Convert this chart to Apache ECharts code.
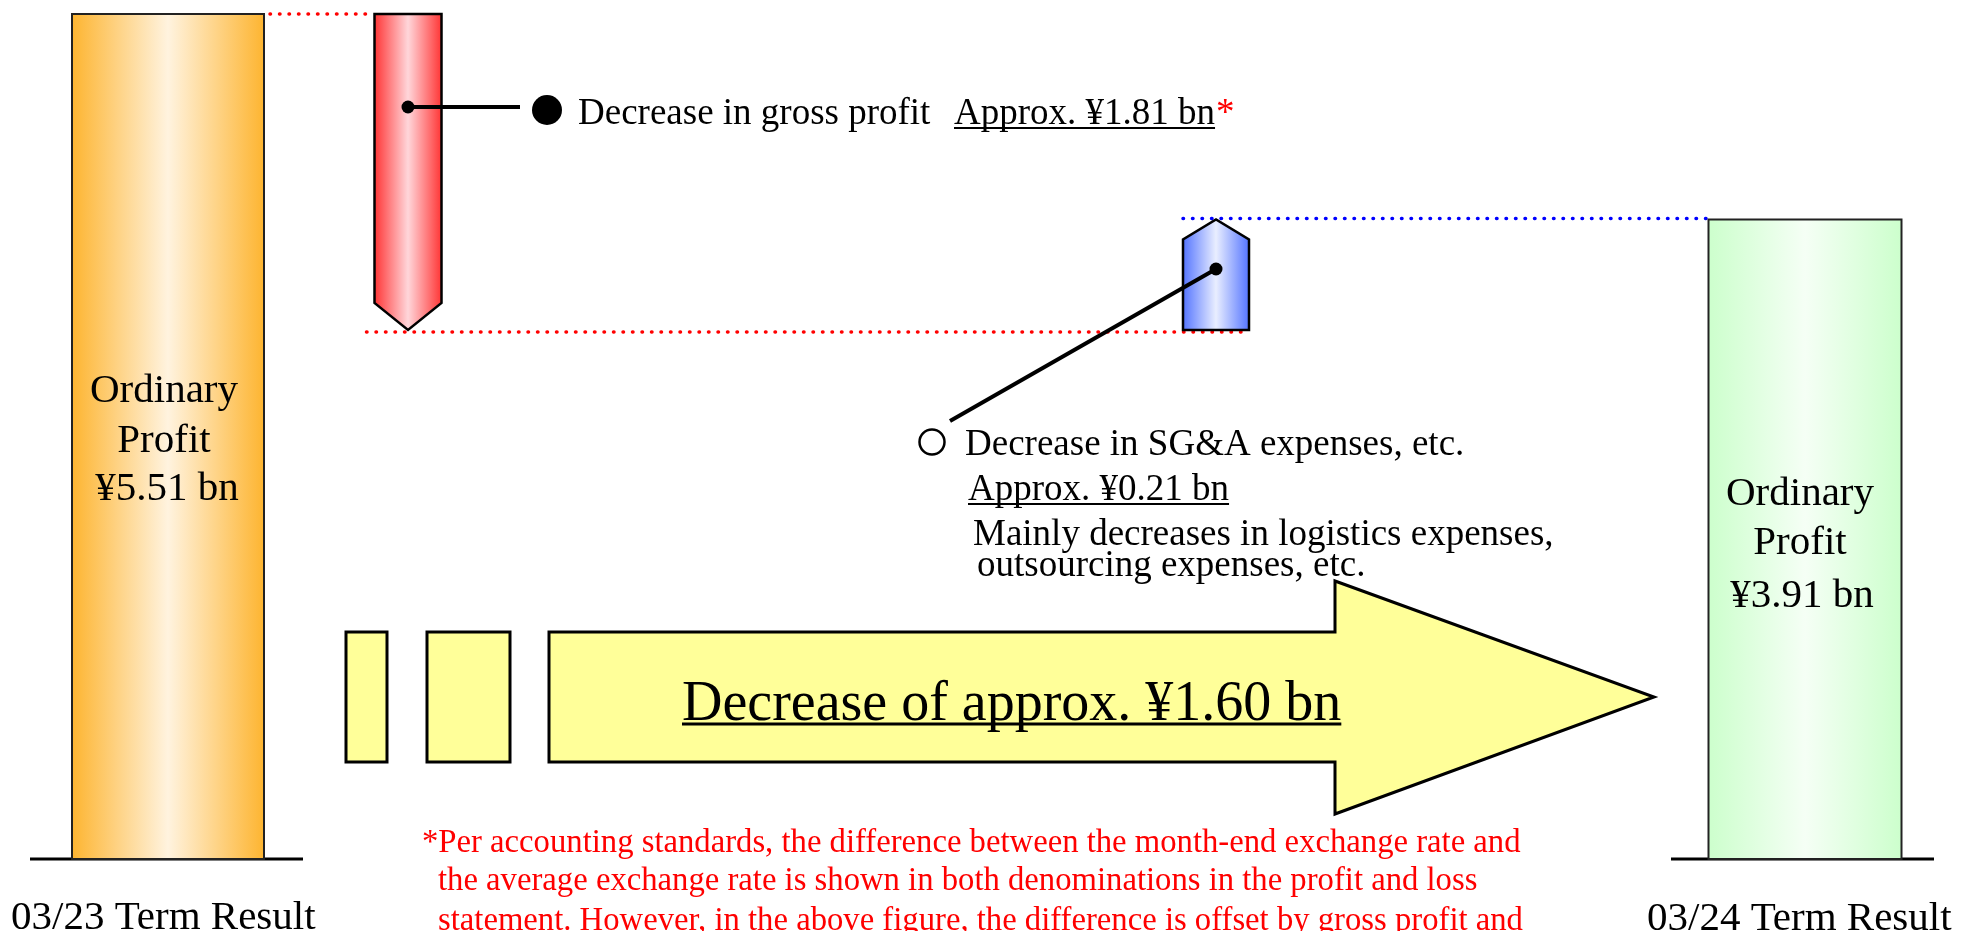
<!DOCTYPE html>
<html>
<head>
<meta charset="utf-8">
<script src="https://cdn.jsdelivr.net/npm/echarts@6/dist/echarts.min.js"></script>
<style>
  html, body { margin: 0; padding: 0; background: #fff; }
  #chart { width: 1964px; height: 931px; }
</style>
</head>
<body>
<div id="chart"></div>
<script>
// steps of the ordinary profit bridge (¥ bn)
var steps = ['03/23 Term Result', 'Gross profit', 'SG&A expenses, etc.', '03/24 Term Result'];
var stepAmounts = [5.51, -1.81, 0.21, 3.91];
// bar extents as drawn on the slide (the slide itself is not to scale)
var barFrom = [0, 5.51, 3.45, 0];
var barTo = [5.51, 3.45, 4.17, 4.17];

// layout (slide pixels)
var barCenter = [168, 408, 1216, 1805];
var barWidth = [192, 67, 66, 193];
var FONT = '"Liberation Serif", "Times New Roman", serif';

var fills = [
  ['#FDB42F', '#FFF3DF'],
  ['#FF3030', '#FFD6DA'],
  ['#4F70FF', '#E9EEFF'],
  ['#CCFFCC', '#F5FFF5']
];

function grad(c) {
  return new echarts.graphic.LinearGradient(0, 0, 1, 0, [
    { offset: 0, color: c[0] }, { offset: 0.5, color: c[1] }, { offset: 1, color: c[0] }
  ]);
}

var dotted = function (color) {
  return { stroke: color, lineWidth: 3.5, lineDash: [0.5, 9], lineCap: 'round' };
};

function renderStep(params, api) {
  var i = params.dataIndex;
  var cx = api.value(0);
  var pFrom = api.coord([cx, api.value(1)]);
  var pTo = api.coord([cx, api.value(2)]);
  var half = api.size([barWidth[i], 0])[0] / 2;
  var x0 = pTo[0] - half, x1 = pTo[0] + half;
  var kids = [];

  if (i === 0 || i === 3) {
    kids.push({ type: 'rect', shape: { x: x0, y: pTo[1], width: x1 - x0, height: pFrom[1] - pTo[1] },
      style: { fill: grad(fills[i]), stroke: '#222', lineWidth: 2 } });
  } else if (stepAmounts[i] < 0) {
    // decrease: arrow pointing down
    var prevRight = api.coord([barCenter[i - 1] + barWidth[i - 1] / 2 + 6, api.value(1)]);
    kids.push({ type: 'line', shape: { x1: prevRight[0], y1: pFrom[1], x2: x0, y2: pFrom[1] }, style: dotted('#FF0000') });
    var nextRight = api.coord([barCenter[i + 1] + barWidth[i + 1] / 2, api.value(2)]);
    kids.push({ type: 'line', shape: { x1: x0 - 8, y1: pTo[1] + 2, x2: nextRight[0], y2: pTo[1] + 2 }, style: dotted('#FF0000') });
    kids.push({ type: 'polygon', shape: { points: [[x0, pFrom[1]], [x1, pFrom[1]], [x1, pTo[1] - 27], [pTo[0], pTo[1]], [x0, pTo[1] - 27]] },
      style: { fill: grad(fills[i]), stroke: '#000', lineWidth: 2.5 } });
  } else {
    // increase: arrow pointing up
    var nextLeft = api.coord([barCenter[i + 1] - barWidth[i + 1] / 2, api.value(2)]);
    kids.push({ type: 'line', shape: { x1: x0, y1: pTo[1] - 1, x2: nextLeft[0], y2: pTo[1] - 1 }, style: dotted('#0000FF') });
    kids.push({ type: 'polygon', shape: { points: [[x0, pFrom[1]], [x1, pFrom[1]], [x1, pTo[1] + 20], [pTo[0], pTo[1]], [x0, pTo[1] + 20]] },
      style: { fill: grad(fills[i]), stroke: '#000', lineWidth: 2.5 } });
  }
  return { type: 'group', children: kids };
}

var measureCtx = document.createElement('canvas').getContext('2d');
function textWidth(s, size) {
  measureCtx.font = size + 'px ' + FONT;
  return measureCtx.measureText(s).width;
}

function txt(x, base, s, size, color, align) {
  return { type: 'text', z: 20, silent: true, style: {
    text: s, x: x, y: base - 0.21 * size, fontSize: size, fontFamily: FONT,
    fill: color || '#000', align: align || 'left', verticalAlign: 'middle' } };
}
function uline(x, base, s, size, off, lw) {
  var w = textWidth(s, size);
  return { type: 'line', z: 20, silent: true, shape: { x1: x, y1: base + off, x2: x + w, y2: base + off },
    style: { stroke: '#000', lineWidth: lw } };
}

var graphics = [];
// ground lines
graphics.push({ type: 'line', shape: { x1: 30, y1: 859, x2: 303, y2: 859 }, style: { stroke: '#000', lineWidth: 3 } });
graphics.push({ type: 'line', shape: { x1: 1671, y1: 859, x2: 1934, y2: 859 }, style: { stroke: '#000', lineWidth: 3 } });

// labels inside the total bars
graphics.push(txt(164, 400, 'Ordinary', 41, '#000', 'center'));
graphics.push(txt(164, 450, 'Profit', 41, '#000', 'center'));
graphics.push(txt(167, 498, '\u00a55.51 bn', 41, '#000', 'center'));
graphics.push(txt(1800, 503, 'Ordinary', 41, '#000', 'center'));
graphics.push(txt(1800, 552, 'Profit', 41, '#000', 'center'));
graphics.push(txt(1802, 605, '\u00a53.91 bn', 41, '#000', 'center'));

// category labels
graphics.push(txt(11, 927, steps[0], 41));
graphics.push(txt(1647, 928, steps[3], 41));

// gross profit callout
graphics.push({ type: 'line', z: 15, shape: { x1: 408, y1: 107, x2: 520, y2: 107 }, style: { stroke: '#000', lineWidth: 4 } });
graphics.push({ type: 'circle', z: 15, shape: { cx: 408, cy: 107, r: 6.5 }, style: { fill: '#000' } });
graphics.push({ type: 'circle', z: 15, shape: { cx: 547, cy: 110, r: 15 }, style: { fill: '#000' } });
graphics.push(txt(578, 122, 'Decrease in gross profit', 37));
graphics.push(txt(954, 122, 'Approx. \u00a51.81 bn', 37));
graphics.push(uline(954, 122, 'Approx. \u00a51.81 bn', 37, 6, 2));
graphics.push(txt(954 + textWidth('Approx. \u00a51.81 bn', 37) + 1, 122, '*', 37, '#FF0000'));

// SG&A callout
graphics.push({ type: 'line', z: 15, shape: { x1: 1216, y1: 269, x2: 950, y2: 421 }, style: { stroke: '#000', lineWidth: 4 } });
graphics.push({ type: 'circle', z: 15, shape: { cx: 1216, cy: 269, r: 6.5 }, style: { fill: '#000' } });
graphics.push({ type: 'circle', z: 15, shape: { cx: 932, cy: 442, r: 12.5 }, style: { fill: '#fff', stroke: '#000', lineWidth: 2.5 } });
graphics.push(txt(965, 453, 'Decrease in SG&A expenses, etc.', 37));
graphics.push(txt(968, 498, 'Approx. \u00a50.21 bn', 37));
graphics.push(uline(968, 498, 'Approx. \u00a50.21 bn', 37, 6, 2));
graphics.push(txt(973, 543, 'Mainly decreases in logistics expenses,', 37));
graphics.push(txt(977, 574, 'outsourcing expenses, etc.', 37));

// big yellow arrow
var yel = { fill: '#FFFF99', stroke: '#000', lineWidth: 3 };
graphics.push({ type: 'rect', shape: { x: 346, y: 632, width: 41, height: 130 }, style: yel });
graphics.push({ type: 'rect', shape: { x: 427, y: 632, width: 83, height: 130 }, style: yel });
graphics.push({ type: 'polygon', shape: { points: [[549, 632], [1335, 632], [1335, 581], [1654, 697], [1335, 814], [1335, 762], [549, 762]] }, style: yel });
graphics.push(txt(682, 717, 'Decrease of approx. \u00a51.60 bn', 56));
graphics.push(uline(682, 717, 'Decrease of approx. \u00a51.60 bn', 56, 7, 3));

// footnote
var noteSize = 32.7;
graphics.push(txt(422, 850, '*Per accounting standards, the difference between the month-end exchange rate and', noteSize, '#FF0000'));
graphics.push(txt(438, 888, 'the average exchange rate is shown in both denominations in the profit and loss', noteSize, '#FF0000'));
graphics.push(txt(438, 928, 'statement. However, in the above figure, the difference is offset by gross profit and', noteSize, '#FF0000'));

var chart = echarts.init(document.getElementById('chart'));
var data = steps.map(function (s, i) { return [barCenter[i], barFrom[i], barTo[i]]; });

chart.setOption({
  animation: false,
  backgroundColor: '#fff',
  grid: { left: 0, right: 0, top: 14, bottom: 72 },
  xAxis: { type: 'value', min: 0, max: 1964, show: false },
  yAxis: { type: 'value', min: 0, max: 5.51, show: false },
  series: [{
    type: 'custom',
    silent: true,
    renderItem: renderStep,
    data: data
  }],
  graphic: graphics
});
</script>
</body>
</html>
